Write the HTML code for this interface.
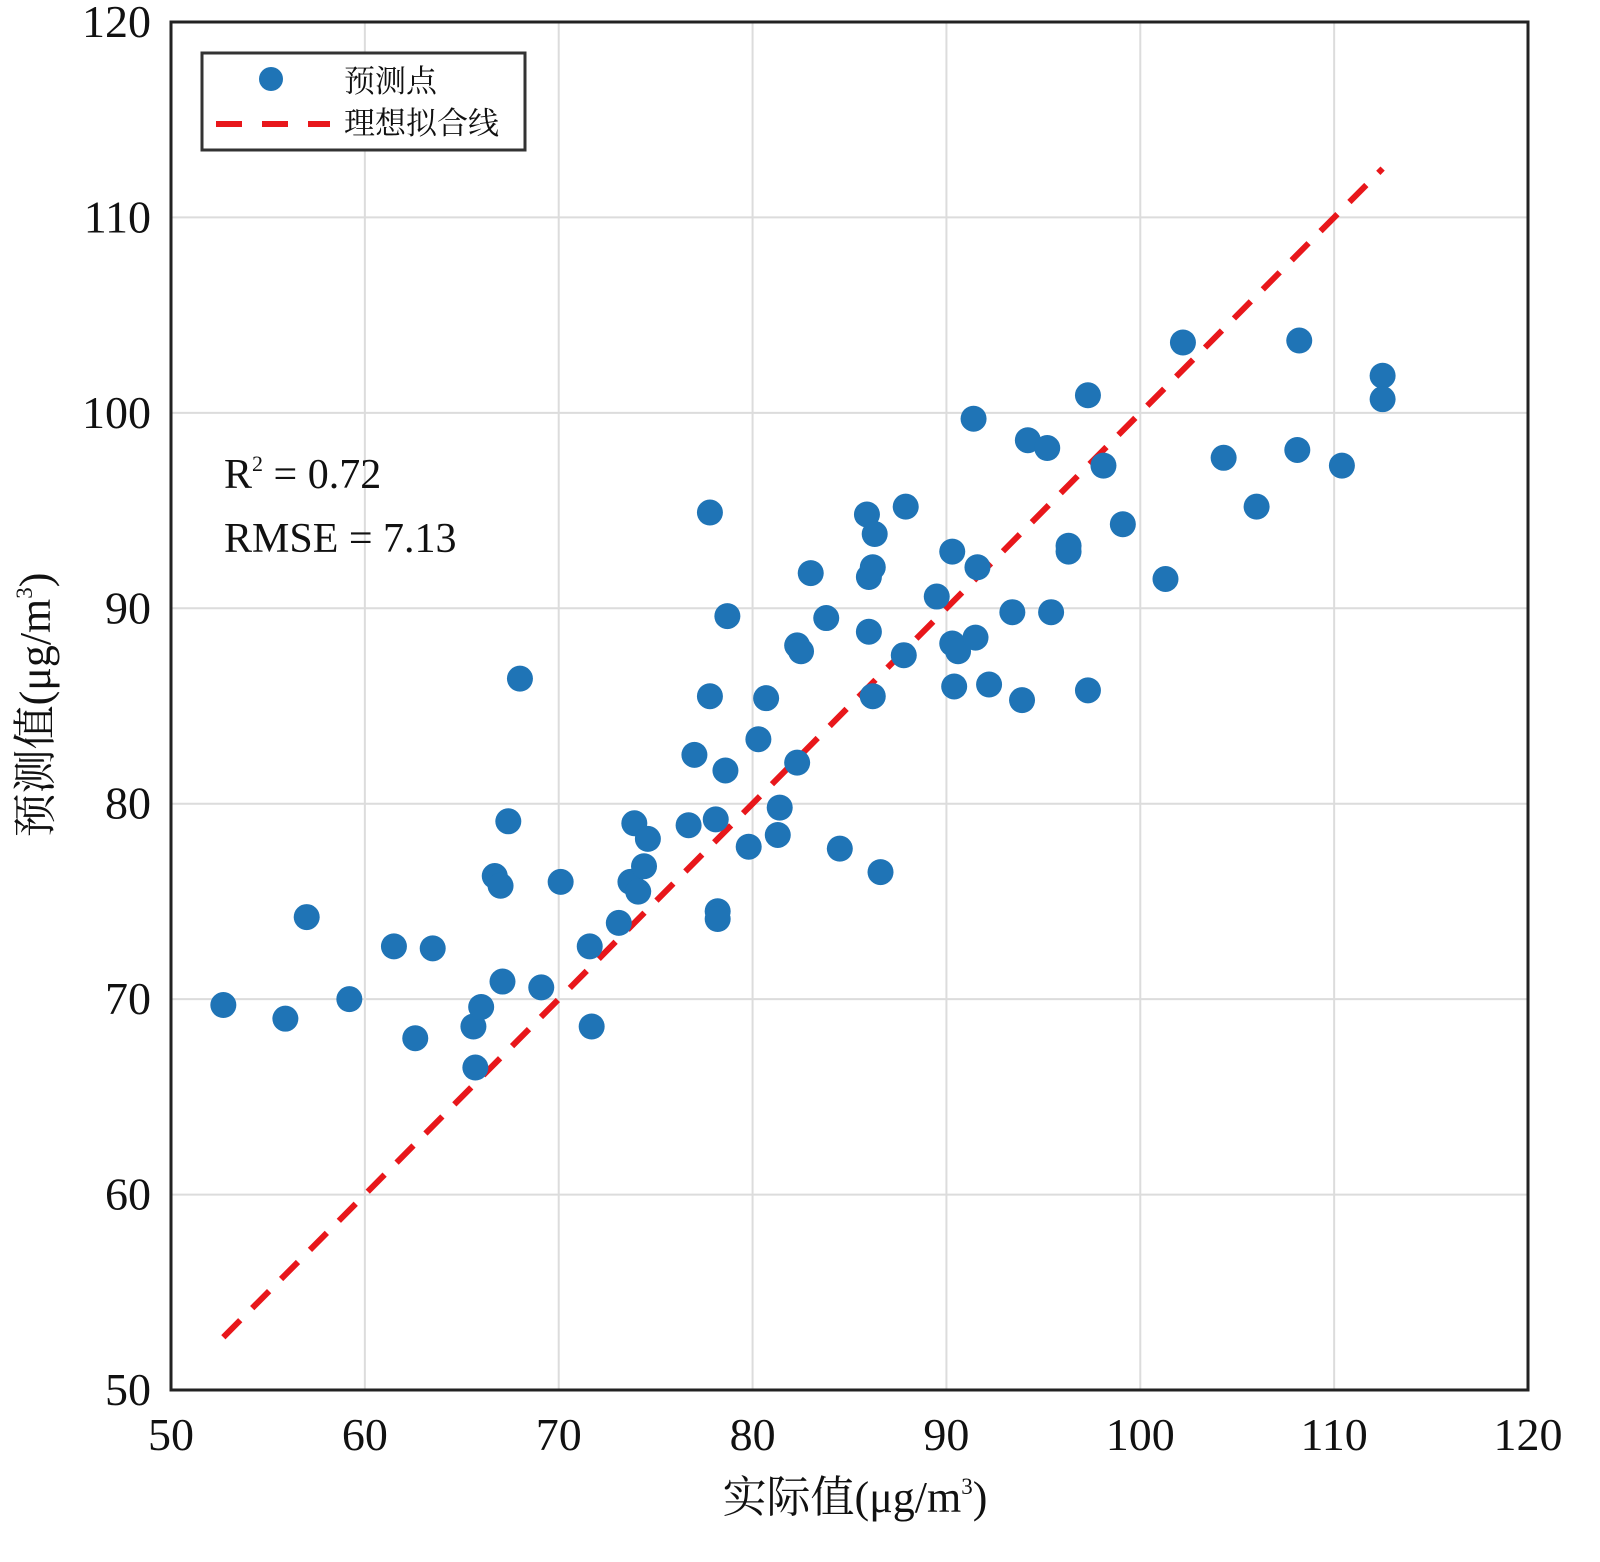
<!DOCTYPE html>
<html><head><meta charset="utf-8">
<style>
html,body{margin:0;padding:0;background:#fff;}
svg{display:block;}
text{font-family:"Liberation Serif","Noto Serif CJK SC",serif;fill:#111;}
</style></head>
<body>
<svg id="chart" width="1600" height="1562" viewBox="0 0 1600 1562" xmlns="http://www.w3.org/2000/svg">
<g id="grid"></g>
<g id="fitline"></g>
<g id="points"></g>
<rect x="171" y="22" width="1357" height="1368" fill="none" stroke="#222" stroke-width="3"/>
<g id="ticks"></g>
<g>
<rect x="202" y="53" width="323" height="97" fill="#fff" stroke="#333" stroke-width="3"/>
<circle cx="271" cy="79" r="12" fill="#1f74b6"/>
<text x="344" y="92" font-size="31">预测点</text>
<line x1="216" y1="124" x2="330" y2="124" stroke="#e8171b" stroke-width="6" stroke-dasharray="26,20"/>
<text x="344" y="134" font-size="31">理想拟合线</text>
</g>
<text x="224" y="488" font-size="42">R<tspan font-size="22" dy="-17">2</tspan><tspan dy="17"> = 0.72</tspan></text>
<text x="224" y="552" font-size="42">RMSE = 7.13</text>
<text x="855" y="1512" font-size="44" text-anchor="middle">实际值(μg/m<tspan font-size="23" dy="-18">3</tspan><tspan dy="18">)</tspan></text>
<text transform="translate(50,705) rotate(-90)" font-size="44" text-anchor="middle">预测值(μg/m<tspan font-size="23" dy="-18">3</tspan><tspan dy="18">)</tspan></text>
</svg>
<script>
const xTicks=[50,60,70,80,90,100,110,120];
const yTicks=[50,60,70,80,90,100,110,120];
const actual=[52.7,55.9,57.0,59.2,61.5,62.6,63.5,65.6,66.0,65.7,67.1,66.7,67.0,67.4,68.0,69.1,70.1,71.6,71.7,73.1,73.7,74.1,74.4,73.9,74.6,76.7,77.0,77.8,77.8,78.1,78.2,78.2,78.6,78.7,79.8,80.3,80.7,81.4,81.3,82.3,82.3,82.5,83.0,83.8,84.5,85.9,86.0,86.2,86.3,86.0,86.2,86.6,87.8,87.9,89.5,90.3,90.3,90.6,90.4,91.6,91.5,91.4,92.2,93.4,93.9,94.2,95.2,95.4,96.3,96.3,97.3,97.3,98.1,99.1,101.3,102.2,104.3,106.0,108.1,108.2,110.4,112.5,112.5];
const predicted=[69.7,69.0,74.2,70.0,72.7,68.0,72.6,68.6,69.6,66.5,70.9,76.3,75.8,79.1,86.4,70.6,76.0,72.7,68.6,73.9,76.0,75.5,76.8,79.0,78.2,78.9,82.5,94.9,85.5,79.2,74.5,74.1,81.7,89.6,77.8,83.3,85.4,79.8,78.4,82.1,88.1,87.8,91.8,89.5,77.7,94.8,91.6,92.1,93.8,88.8,85.5,76.5,87.6,95.2,90.6,92.9,88.2,87.8,86.0,92.1,88.5,99.7,86.1,89.8,85.3,98.6,98.2,89.8,93.2,92.9,100.9,85.8,97.3,94.3,91.5,103.6,97.7,95.2,98.1,103.7,97.3,101.9,100.7];
const fitRange=[52.7,112.5];
const NS="http://www.w3.org/2000/svg";
const X0=171,X1=1528,Y0=1390,Y1=22;
function sx(v){return X0+(v-50)/70*(X1-X0);}
function sy(v){return Y0-(v-50)/70*(Y0-Y1);}
function mk(t,a){const e=document.createElementNS(NS,t);for(const k in a)e.setAttribute(k,a[k]);return e;}
const grid=document.getElementById('grid'),ticks=document.getElementById('ticks');
xTicks.forEach(v=>{
  const l=mk('line',{x1:sx(v),x2:sx(v),y1:Y1,y2:Y0,stroke:'#dcdcdc','stroke-width':2});
  
  
  grid.appendChild(l);
  const t=mk('text',{x:sx(v),y:1450,'font-size':46,'text-anchor':'middle'});
  t.textContent=v;
  
  
  ticks.appendChild(t);
});
yTicks.forEach(v=>{
  const l=mk('line',{x1:X0,x2:X1,y1:sy(v),y2:sy(v),stroke:'#dcdcdc','stroke-width':2});
  
  
  grid.appendChild(l);
  const t=mk('text',{x:151,y:sy(v)+15,'font-size':46,'text-anchor':'end'});
  t.textContent=v;
  
  
  ticks.appendChild(t);
});
const fl=mk('line',{x1:sx(fitRange[0]),y1:sy(fitRange[0]),x2:sx(fitRange[1]),y2:sy(fitRange[1]),stroke:'#e8171b','stroke-width':6,'stroke-dasharray':'24,17'});


document.getElementById('fitline').appendChild(fl);
const pts=document.getElementById('points');
actual.forEach((a,i)=>{
  const c=mk('circle',{cx:sx(a),cy:sy(predicted[i]),r:13,fill:'#1f74b6'});
  
  
  pts.appendChild(c);
});
</script>
</body></html>
